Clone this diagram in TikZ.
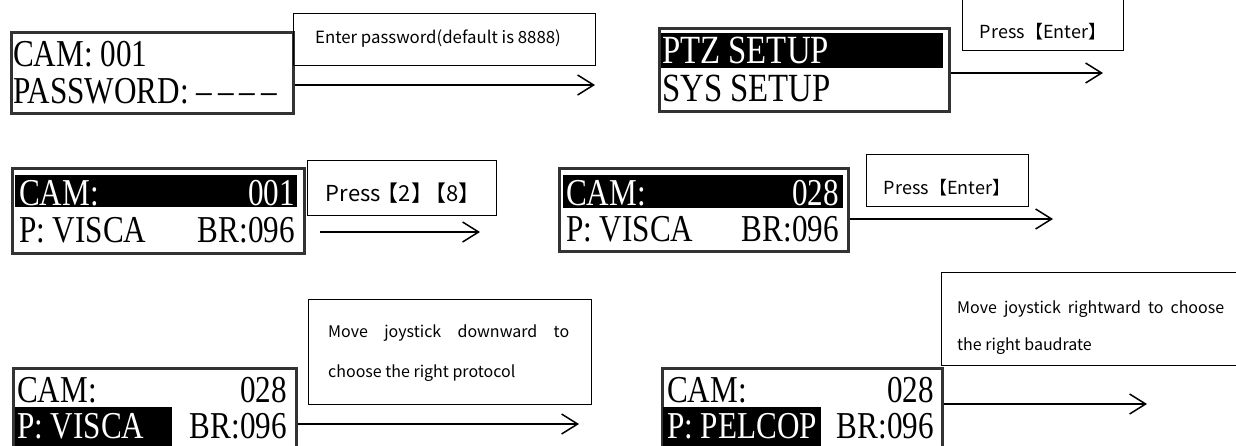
\documentclass[tikz,border=0pt]{standalone}
\usepackage{fontspec}
\newfontfamily\lcdfont[FakeStretch=0.82]{Liberation Serif}
\newfontfamily\hintfont{Noto Sans CJK SC}
\usetikzlibrary{arrows.meta}

\begin{document}
\begin{tikzpicture}[x=1pt,y=-1pt,
  lcdbox/.style={draw=black!80, line width=2.5pt, fill=white, anchor=north west, inner sep=0pt},
  lcd/.style={font=\lcdfont\fontsize{38}{38}\selectfont, inner sep=0pt},
  lit/.style={lcd, text=white},
  hintbox/.style={draw, line width=1.1pt, anchor=north west, inner sep=0pt},
  hint/.style={font=\hintfont\fontsize{16}{19}\selectfont, inner sep=0pt},
  flow/.style={line width=1.5pt, -{Straight Barb[length=16pt,width=20pt]}}]
		\useasboundingbox (0,0) rectangle (1236,445);
		\clip (0,0) rectangle (1236,445);
		% first row
		\node[lcdbox, minimum width=282pt, minimum height=81pt] (p1) at (10,31) {};
		\node[lcd, anchor=base west] (p1cam) at (13,66) {CAM: 001};
		\node[lcd, anchor=base west] (p1pwd) at (13,103) {PASSWORD: –\kern6pt–\kern6pt–\kern6pt–};
		\node[hintbox, minimum width=302pt, minimum height=52pt] (h1) at (293,13) {};
		\node[hint, font=\hintfont\fontsize{16.8}{19}\selectfont] (h1txt) at (438,39) {Enter password(default is 8888)};
		\coordinate (a1) at (595,85);
		\draw[flow] (p1.east |- a1) -- (a1);
		\node[lcdbox, minimum width=290pt, minimum height=83pt] (p2) at (658,27) {};
		\fill (661,33) rectangle (943,68);
		\node[lit, font=\lcdfont\fontsize{40}{40}\selectfont, anchor=base west] (p2ptz) at (662,63) {PTZ SETUP};
		\node[lcd, font=\lcdfont\fontsize{40}{40}\selectfont, anchor=base west] (p2sys) at (662,101) {SYS SETUP};
		\node[hintbox, minimum width=161pt, minimum height=53pt] (h2) at (962,-3) {};
		\node[hint, font=\hintfont\fontsize{18}{21}\selectfont] (h2txt) at (1043,32) {Press【Enter】};
		\coordinate (a2) at (1103,73);
		\draw[flow] (p2.east |- a2) -- (a2);
		% second row
		\node[lcdbox, minimum width=292pt, minimum height=85pt] (p3) at (11,167) {};
		\fill (15,175) rectangle (297,207);
		\node[lit, anchor=base west] (p3cam) at (19,205) {CAM:};
		\node[lit, anchor=base east] (p3id) at (295,205) {001};
		\node[lcd, anchor=base west] (p3prot) at (19,242) {P: VISCA};
		\node[lcd, anchor=base east] (p3br) at (295,242) {BR:096};
		\node[hintbox, minimum width=189pt, minimum height=55pt] (h3) at (307,160) {};
		\node[hint, font=\hintfont\fontsize{22}{26}\selectfont] (h3txt) at (403,193) {Press\kern-4pt【2】\kern-9pt【8】};
		\coordinate (a3s) at (320,232);
		\coordinate (a3) at (480,232);
		\draw[flow] (a3s) -- (a3);
		\node[lcdbox, minimum width=289pt, minimum height=83pt] (p4) at (558,167) {};
		\fill (563,175) rectangle (843,208);
		\node[lit, anchor=base west] (p4cam) at (566,205) {CAM:};
		\node[lit, anchor=base east] (p4id) at (839,205) {028};
		\node[lcd, anchor=base west] (p4prot) at (566,241) {P: VISCA};
		\node[lcd, anchor=base east] (p4br) at (839,241) {BR:096};
		\node[hintbox, minimum width=162pt, minimum height=52pt] (h4) at (866,154) {};
		\node[hint, font=\hintfont\fontsize{18}{21}\selectfont] (h4txt) at (947,188) {Press【Enter】};
		\coordinate (a4) at (1053,219);
		\draw[flow] (p4.east |- a4) -- (a4);
		% third row
		\node[lcdbox, minimum width=283pt, minimum height=90pt] (p5) at (12,367) {};
		\fill (15,407) rectangle (172,450);
		\node[lcd, anchor=base west] (p5cam) at (17,402) {CAM:};
		\node[lcd, anchor=base east] (p5id) at (287,402) {028};
		\node[lit, anchor=base west] (p5prot) at (17,438) {P: VISCA};
		\node[lcd, anchor=base east] (p5br) at (287,438) {BR:096};
		\node[hintbox, minimum width=283pt, minimum height=105pt] (h5) at (308,299) {};
		\node[hint, anchor=west] (h5a) at (328,333) {\makebox[241pt][s]{Move\hfil joystick\hfil downward\hfil to}};
		\node[hint, anchor=west] (h5b) at (328,373) {choose the right protocol};
		\coordinate (a5) at (579,424);
		\draw[flow] (p5.east |- a5) -- (a5);
		\node[lcdbox, minimum width=280pt, minimum height=90pt] (p6) at (661,367) {};
		\fill (663,407) rectangle (821,450);
		\node[lcd, anchor=base west] (p6cam) at (667,402) {CAM:};
		\node[lcd, anchor=base east] (p6id) at (934,402) {028};
		\node[lit, anchor=base west] (p6prot) at (667,438) {P: PELCOP};
		\node[lcd, anchor=base east] (p6br) at (934,438) {BR:096};
		\node[hintbox, minimum width=300pt, minimum height=93pt] (h6) at (941,272) {};
		\node[hint, anchor=west] (h6a) at (957,309) {\makebox[267pt][s]{Move\hfil joystick\hfil rightward\hfil to\hfil choose}};
		\node[hint, anchor=west] (h6b) at (957,346) {the right baudrate};
		\coordinate (a6) at (1147,404);
		\draw[flow] (p6.east |- a6) -- (a6);
\end{tikzpicture}
\end{document}
